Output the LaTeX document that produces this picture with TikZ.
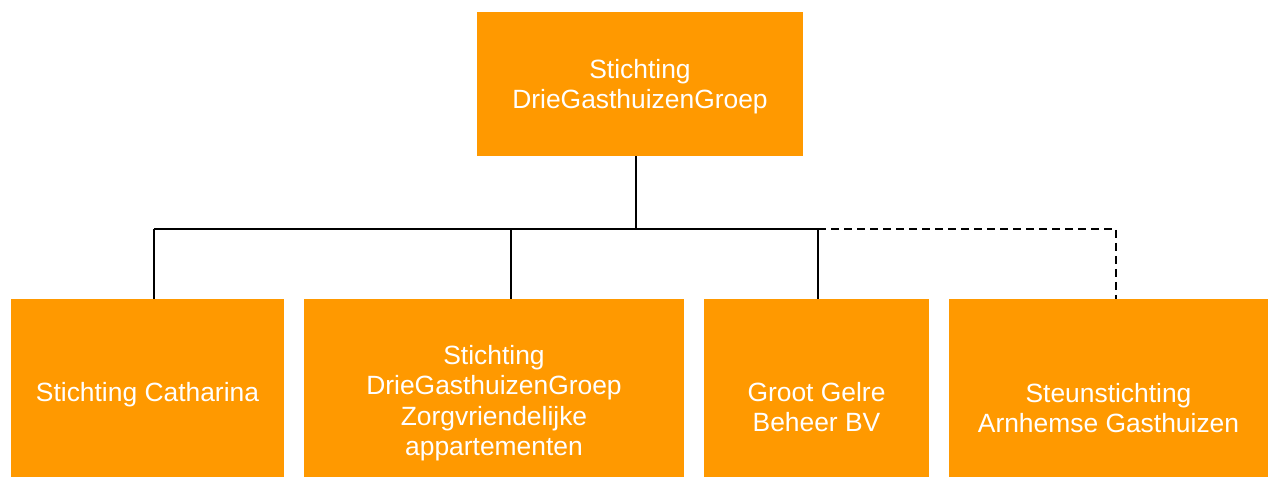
\documentclass[tikz,border=0pt]{standalone}
\usepackage{fontspec}
\setmainfont{Liberation Sans}
\definecolor{orgbox}{HTML}{FF9900}
\begin{document}
\begin{tikzpicture}[x=1pt,y=1pt,
  orgnode/.style={fill=orgbox,draw=none,inner sep=0pt},
  orgtext/.style={text=white,align=center,inner sep=0pt,
    font=\fontsize{26.4}{30.5}\selectfont},
  link/.style={draw=black,line width=1.8pt},
  duallink/.style={draw=black,line width=1.8pt,dash pattern=on 8pt off 5pt}]
\useasboundingbox (0,0) rectangle (1271,477);
% boxes (y = 477 - pixel y)
\node[orgnode,minimum width=326pt,minimum height=144pt] (top) at (640,393) {};
\node[orgnode,minimum width=273pt,minimum height=178pt] (b1) at (147.5,89) {};
\node[orgnode,minimum width=380pt,minimum height=178pt] (b2) at (494,89) {};
\node[orgnode,minimum width=225pt,minimum height=178pt] (b3) at (816.5,89) {};
\node[orgnode,minimum width=319pt,minimum height=178pt] (b4) at (1108.5,89) {};
% texts
\node[orgtext] (ttop) at ([yshift=-2.5pt]top.center) {Stichting\\DrieGasthuizenGroep};
\node[orgtext] (t1) at ([yshift=-7pt]b1.center) {Stichting Catharina};
\node[orgtext] (t2) at ([yshift=-15pt]b2.center) {Stichting\\DrieGasthuizenGroep\\Zorgvriendelijke\\appartementen};
\node[orgtext] (t3) at ([yshift=-19pt]b3.center) {Groot Gelre\\Beheer BV};
\node[orgtext] (t4) at ([yshift=-20pt]b4.center) {Steunstichting\\Arnhemse Gasthuizen};
% junctions
\coordinate (jt) at (636,248);
\coordinate (j1) at (154,248);
\coordinate (j2) at (511,248);
\coordinate (j3) at (818,248);
\coordinate (j4) at (1116,248);
\draw[link] (jt |- top.south) -- (jt);
\draw[link] (j1) -- (j3);
\draw[link] (j1) -- (j1 |- b1.north);
\draw[link] (j2) -- (j2 |- b2.north);
\draw[link] (j3) -- (j3 |- b3.north);
\draw[duallink] (j3) -- (j4) -- (j4 |- b4.north);
\end{tikzpicture}
\end{document}
